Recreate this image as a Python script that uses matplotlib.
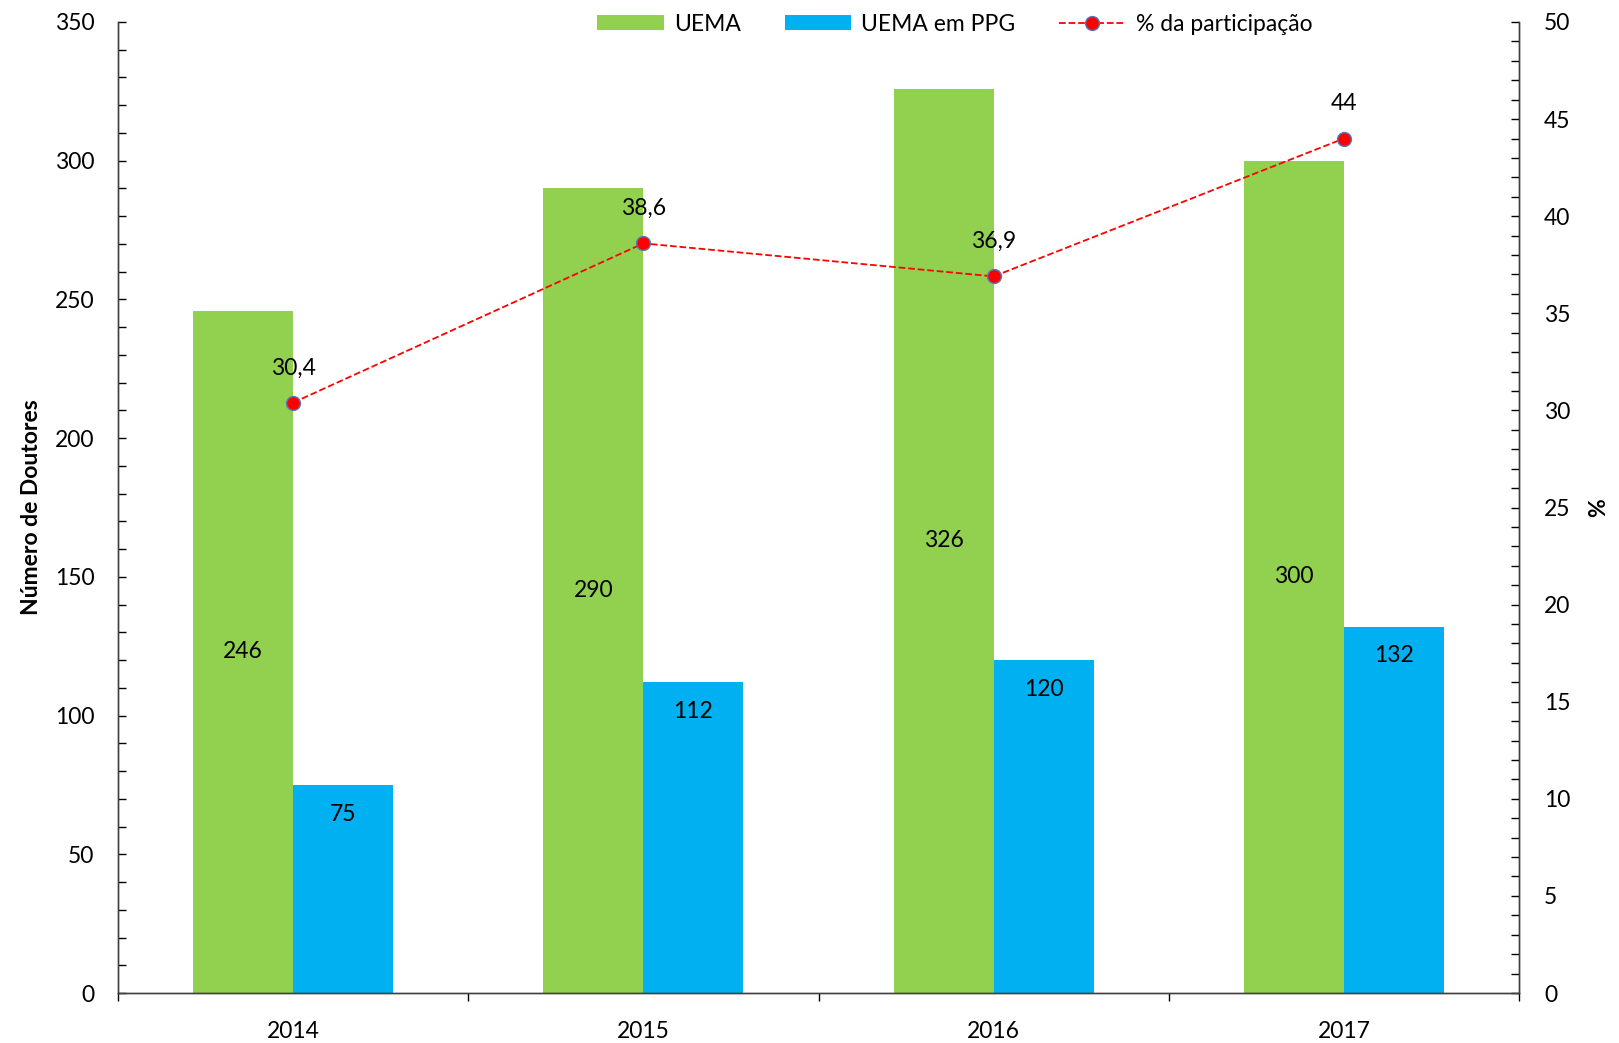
import matplotlib
matplotlib.use("Agg")
import matplotlib.pyplot as plt
import numpy as np
from matplotlib.patches import Patch
from matplotlib.lines import Line2D
from matplotlib.ticker import MultipleLocator

years = ["2014", "2015", "2016", "2017"]
uema = [246, 290, 326, 300]
uema_ppg = [75, 112, 120, 132]
pct = [30.4, 38.6, 36.9, 44.0]
pct_labels = ["30,4", "38,6", "36,9", "44"]

plt.rcParams['font.family'] = ['Lato', 'DejaVu Sans']
FS = 16.5

GREEN = "#92D050"
BLUE = "#00B0F0"
RED = "#FF0000"

fig = plt.figure(figsize=(16.19, 10.43), dpi=100)
ax = fig.add_axes([118/1619, 1-993/1043, (1519-118)/1619, (993-22)/1043])
ax2 = ax.twinx()

x = np.arange(len(years))
w = 1/3.5
b1 = ax.bar(x - w/2, uema, width=w, color=GREEN, zorder=2)
b2 = ax.bar(x + w/2, uema_ppg, width=w, color=BLUE, zorder=2)

for xi, v in zip(x, uema):
    ax.text(xi - w/2, v/2, str(v), ha='center', va='center', fontsize=FS, color='black')
for xi, v in zip(x, uema_ppg):
    ax.annotate(str(v), (xi + w/2, v), xytext=(0, -21), textcoords='offset points',
                ha='center', va='center', fontsize=FS, color='black')

ax.set_xlim(-0.5, len(years) - 0.5)
ax.set_ylim(0, 350)
ax.yaxis.set_major_locator(MultipleLocator(50))
ax.yaxis.set_minor_locator(MultipleLocator(10))
ax.tick_params(axis='y', which='both', direction='in', length=6, width=1, pad=17, labelsize=FS)
ax.set_xticks(x)
ax.set_xticklabels(years)
ax.set_xticks(np.arange(-0.5, len(years)), minor=True)
ax.tick_params(axis='x', which='major', length=0, pad=20, labelsize=FS)
ax.tick_params(axis='x', which='minor', direction='out', length=6, width=1)
ax.set_ylabel("Número de Doutores", fontsize=FS, fontweight='bold', labelpad=9)

ax2.plot(x, pct, linestyle='--', color=RED, linewidth=1.3, marker='o', markersize=10,
         markerfacecolor=RED, markeredgecolor='#4F7BC0', markeredgewidth=1.0, zorder=5)
for xi, v, lab in zip(x, pct, pct_labels):
    ax2.annotate(lab, (xi, v), xytext=(0, 25), textcoords='offset points',
                 ha='center', va='center', fontsize=FS, color='black')
ax2.set_ylim(0, 50)
ax2.yaxis.set_major_locator(MultipleLocator(5))
ax2.yaxis.set_minor_locator(MultipleLocator(1))
ax2.tick_params(axis='y', which='both', direction='in', length=6, width=1, pad=18, labelsize=FS)
ax2.set_ylabel("%", fontsize=FS, fontweight='bold', labelpad=13)

for a in (ax, ax2):
    a.spines['top'].set_visible(False)
    for s in ('left', 'right', 'bottom'):
        a.spines[s].set_linewidth(1.0)
        a.spines[s].set_color('#404040')
ax.set_zorder(ax2.get_zorder() - 1)
ax2.patch.set_visible(False)

handles = [Patch(facecolor=GREEN), Patch(facecolor=BLUE),
           Line2D([0], [0], linestyle='--', color=RED, marker='o', markersize=10,
                  markerfacecolor=RED, markeredgecolor='#4F7BC0', linewidth=1.3)]
fig.legend(handles, ["UEMA", "UEMA em PPG", "% da participação"], ncol=3,
           loc='center', bbox_to_anchor=(955/1619, 1-24/1043), frameon=False,
           fontsize=FS, handlelength=2.9, handleheight=0.65, handletextpad=0.45,
           columnspacing=1.9, numpoints=1)

fig.savefig("out.png", dpi=100)
